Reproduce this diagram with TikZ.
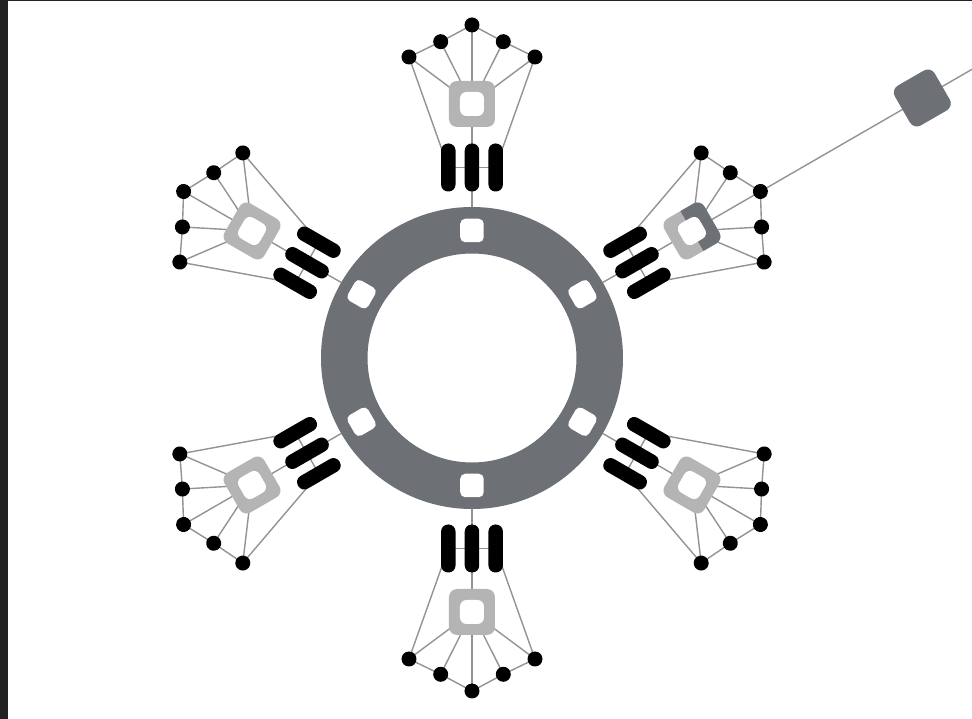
\documentclass[tikz,border=0pt]{standalone}
\pgfdeclarelayer{bg}
\pgfdeclarelayer{paper}
\pgfsetlayers{paper,bg,main}
\definecolor{ringgray}{HTML}{6D7075}
\definecolor{hubgray}{HTML}{B4B4B4}
\definecolor{linegray}{HTML}{939393}
\definecolor{framedark}{HTML}{222222}
\begin{document}
\begin{tikzpicture}[x=1pt,y=1pt,
  tip/.style={circle, fill=black, inner sep=0pt, minimum size=15pt},
  hub/.style={rectangle, fill=hubgray, rounded corners=8pt, inner sep=0pt, minimum size=46pt},
  hole/.style={rectangle, fill=white, rounded corners=6.5pt, inner sep=0pt, minimum size=24pt},
  bar/.style={rectangle, fill=black, rounded corners=7pt, inner sep=0pt, minimum width=14.5pt, minimum height=48pt},
  port/.style={rectangle, fill=white, rounded corners=5pt, inner sep=0pt, minimum size=23.5pt},
  wire/.style={draw=linegray, line width=1.4pt},
]
\begin{pgfonlayer}{paper}
  \fill[white] (-472,-361) rectangle (500,358);
\end{pgfonlayer}
\useasboundingbox (-472,-361) rectangle (500,358);

\fill[ringgray, even odd rule] (0,0) circle (151) (0,0) circle (104.5);

\foreach \i/\a in {1/90,2/150,3/210,4/270,5/330,6/30}{
  \begin{scope}[rotate=\a-90, transform shape]
    \node[port] (p\i) at (0,127.5) {};
    \coordinate (rc\i) at (0,151);
    \node[tip] (t\i-1) at (-63,301) {};
    \node[tip] (t\i-2) at (-31.3,316.3) {};
    \node[tip] (t\i-3) at (0,333) {};
    \node[tip] (t\i-4) at (31.3,316.3) {};
    \node[tip] (t\i-5) at (63,301) {};
    \node[hub] (h\i) at (0,254) {};
    \node[hole] (o\i) at (0,254) {};
    \node[bar] (b\i-1) at (-23.7,190.5) {};
    \node[bar] (b\i-2) at (0,190.5) {};
    \node[bar] (b\i-3) at (23.7,190.5) {};
  \end{scope}
  \begin{pgfonlayer}{bg}
    \draw[wire] (t\i-1.center) -- (t\i-2.center) -- (t\i-3.center) -- (t\i-4.center) -- (t\i-5.center);
    \draw[wire] (t\i-1.center) -- (h\i.center);
    \draw[wire] (t\i-2.center) -- (h\i.center);
    \draw[wire] (t\i-4.center) -- (h\i.center);
    \draw[wire] (t\i-5.center) -- (h\i.center);
    \draw[wire] (t\i-3.center) -- (h\i.center) -- (b\i-2.center) -- (rc\i);
    \draw[wire] (t\i-1.center) -- (b\i-1.center);
    \draw[wire] (t\i-5.center) -- (b\i-3.center);
    \draw[wire] (b\i-1.center) -- (b\i-2.center) -- (b\i-3.center);
  \end{pgfonlayer}
}

\begin{scope}[rotate=-60, transform shape]
  \begin{scope}
    \clip (-30,254) rectangle (30,290);
    \node[hub, fill=ringgray] (h6d) at (0,254) {};
  \end{scope}
  \node[hole] (o6d) at (0,254) {};
  \node[hub, fill=ringgray] (ext) at (0,520) {};
  \coordinate (edge) at (0,580);
\end{scope}
\begin{pgfonlayer}{bg}
  \draw[wire] (t6-3.center) -- (ext.center) -- (edge);
\end{pgfonlayer}

\fill[framedark] (-472,-361) rectangle (-464,358);
\fill[framedark] (-472,356.5) rectangle (500,358);
\end{tikzpicture}
\end{document}
